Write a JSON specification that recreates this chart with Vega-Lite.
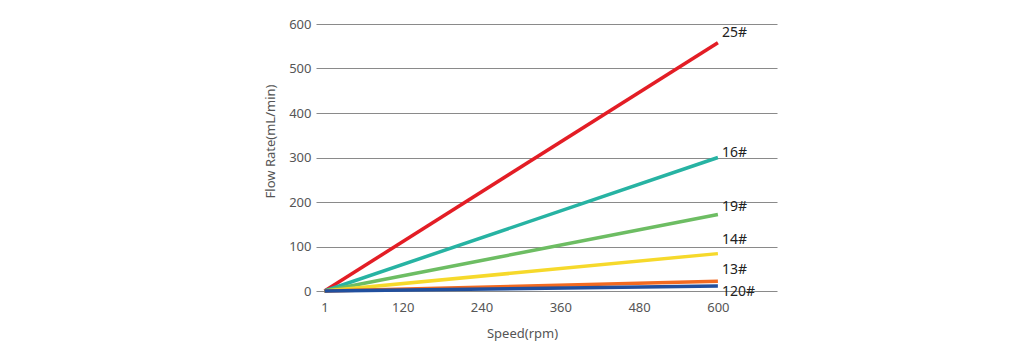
{
  "$schema": "https://vega.github.io/schema/vega-lite/v6.json",
  "width": 461,
  "height": 267,
  "autosize": {"type": "none"},
  "padding": {"left": 316, "top": 24, "right": 247, "bottom": 63},
  "background": "#ffffff",
  "config": {
    "view": {"stroke": null},
    "font": "Noto Sans",
    "axis": {"labelFont": "Noto Sans", "titleFont": "Noto Sans", "labelColor": "#555555", "titleColor": "#555555", "labelFontSize": 13, "titleFontSize": 13, "titleFontWeight": "normal"}
  },
  "data": {
    "values": [
      {"series": "25#", "speed": 1, "flow": 0},
      {"series": "25#", "speed": 600, "flow": 558},
      {"series": "16#", "speed": 1, "flow": 0},
      {"series": "16#", "speed": 600, "flow": 300},
      {"series": "19#", "speed": 1, "flow": 0},
      {"series": "19#", "speed": 600, "flow": 172},
      {"series": "14#", "speed": 1, "flow": 0},
      {"series": "14#", "speed": 600, "flow": 84},
      {"series": "13#", "speed": 1, "flow": 0},
      {"series": "13#", "speed": 600, "flow": 22},
      {"series": "120#", "speed": 1, "flow": 0},
      {"series": "120#", "speed": 600, "flow": 11}
    ]
  },
  "encoding": {
    "x": {
      "field": "speed", "type": "quantitative",
      "scale": {"domain": [-12, 690], "nice": false, "zero": false},
      "axis": {"values": [1, 120, 240, 360, 480, 600], "grid": false, "ticks": false, "domain": false, "labelPadding": 10, "title": "Speed(rpm)", "titleX": 206, "titleY": 42, "titleBaseline": "middle", "titleAnchor": null, "titleAlign": "center"}
    },
    "y": {
      "field": "flow", "type": "quantitative",
      "scale": {"domain": [0, 600], "nice": false},
      "axis": {"values": [0, 100, 200, 300, 400, 500, 600], "grid": true, "gridColor": "#8a8a8a", "gridWidth": 1.2, "gridOpacity": 1, "ticks": false, "domain": false, "labelPadding": 5, "title": "Flow Rate(mL/min)", "titleX": -46, "titleY": 117, "titleAngle": -90, "titleBaseline": "middle", "titleAlign": "center"}
    }
  },
  "layer": [
    {
      "mark": {"type": "line", "strokeWidth": 3.5},
      "encoding": {
        "color": {
          "field": "series", "type": "nominal", "legend": null,
          "scale": {"domain": ["25#", "16#", "19#", "14#", "13#", "120#"], "range": ["#e31d25", "#27b3a3", "#6dbd63", "#f6d92b", "#f26a21", "#214f9e"]}
        },
        "order": {"field": "speed"}
      }
    },
    {
      "transform": [{"filter": "datum.speed == 600 && datum.series == '25#'"}],
      "mark": {"type": "text", "align": "left", "baseline": "middle", "dx": 4, "dy": -10, "fontSize": 14, "color": "#222222"},
      "encoding": {"text": {"field": "series"}}
    },
    {
      "transform": [{"filter": "datum.speed == 600 && datum.series == '16#'"}],
      "mark": {"type": "text", "align": "left", "baseline": "middle", "dx": 4, "dy": -5, "fontSize": 14, "color": "#222222"},
      "encoding": {"text": {"field": "series"}}
    },
    {
      "transform": [{"filter": "datum.speed == 600 && datum.series == '19#'"}],
      "mark": {"type": "text", "align": "left", "baseline": "middle", "dx": 4, "dy": -7.5, "fontSize": 14, "color": "#222222"},
      "encoding": {"text": {"field": "series"}}
    },
    {
      "transform": [{"filter": "datum.speed == 600 && datum.series == '14#'"}],
      "mark": {"type": "text", "align": "left", "baseline": "middle", "dx": 4, "dy": -13.5, "fontSize": 14, "color": "#222222"},
      "encoding": {"text": {"field": "series"}}
    },
    {
      "transform": [{"filter": "datum.speed == 600 && datum.series == '13#'"}],
      "mark": {"type": "text", "align": "left", "baseline": "middle", "dx": 4, "dy": -11, "fontSize": 14, "color": "#222222"},
      "encoding": {"text": {"field": "series"}}
    },
    {
      "transform": [{"filter": "datum.speed == 600 && datum.series == '120#'"}],
      "mark": {"type": "text", "align": "left", "baseline": "middle", "dx": 4, "dy": 6, "fontSize": 14, "color": "#222222"},
      "encoding": {"text": {"field": "series"}}
    }
  ]
}
